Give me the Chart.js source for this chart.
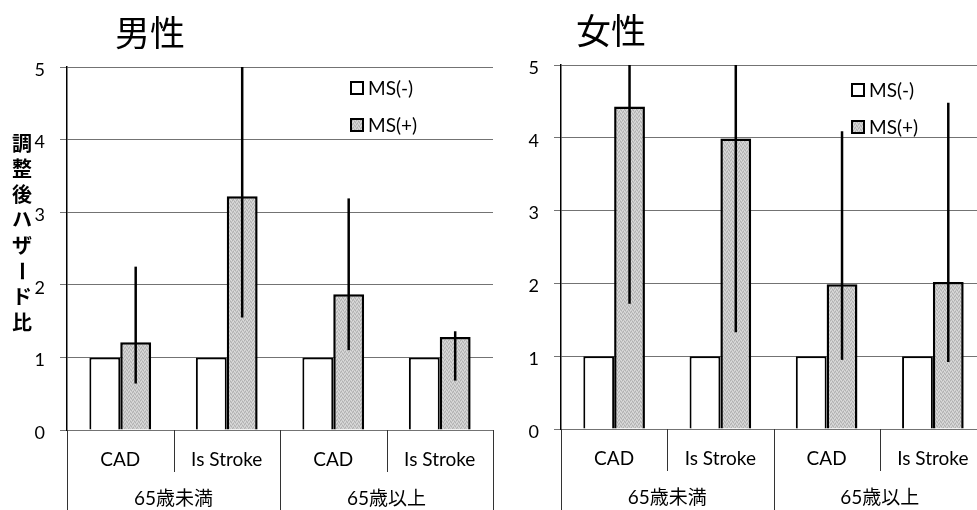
<!DOCTYPE html>
<html>
<head>
<meta charset="utf-8">
<script src="https://cdn.jsdelivr.net/npm/chart.js@4"></script>
<style>
  html, body { margin: 0; padding: 0; background: #fff; overflow: hidden; width: 977px; height: 510px; position: relative; }
  .panel { position: absolute; top: 0; height: 510px; }
  #male { left: 0; width: 496px; }
  #female { left: 494px; width: 494px; }
</style>
</head>
<body>
<div class="panel" id="male"><canvas id="cMale" width="496" height="510"></canvas></div>
<div class="panel" id="female"><canvas id="cFemale" width="494" height="510"></canvas></div>
<script>
// Outcome categories, grouped by age band
const outcomes = ['CAD', 'Is Stroke', 'CAD', 'Is Stroke'];
const ageGroups = ['65歳未満', '65歳以上'];
const seriesNames = ['MS(-)', 'MS(+)'];
const yTicks = [0, 1, 2, 3, 4, 5];
const yAxisTitle = '調整後ハザード比';

// Men: adjusted hazard ratios and 95% CI of the MS(+) group (MS(-) is the reference = 1)
const maleMsNeg = [1, 1, 1, 1];
const maleMsPos = [1.21, 3.22, 1.87, 1.28];
const maleCiLow = [0.64, 1.55, 1.10, 0.68];
const maleCiHigh = [2.25, 5.5, 3.19, 1.36];

// Women
const femaleMsNeg = [1, 1, 1, 1];
const femaleMsPos = [4.43, 3.99, 1.99, 2.02];
const femaleCiLow = [1.72, 1.33, 0.95, 0.92];
const femaleCiHigh = [5.5, 5.5, 4.09, 4.48];

const LATIN = 'Lato, "Noto Sans CJK JP", sans-serif';
const CJK = '"Noto Sans CJK JP", sans-serif';

function stipple(ctx) {
  const c = document.createElement('canvas');
  c.width = c.height = 4;
  const g = c.getContext('2d');
  g.fillStyle = '#c8c8c8'; g.fillRect(0, 0, 4, 4);
  g.fillStyle = '#b0b0b0';
  [[0, 0], [2, 1], [1, 3], [3, 2]].forEach(([x, y]) => g.fillRect(x, y, 1, 1));
  g.fillStyle = '#dcdcdc';
  [[1, 1], [3, 0], [0, 2], [2, 3]].forEach(([x, y]) => g.fillRect(x, y, 1, 1));
  return ctx.createPattern(c, 'repeat');
}

const decor = {
  id: 'decor',
  afterDatasetsDraw(chart, args, o) {
    const { ctx, chartArea: a, scales: { y } } = chart;
    const meta = chart.getDatasetMeta(1);
    ctx.save();
    ctx.beginPath();
    ctx.rect(a.left, a.top, a.right - a.left, a.bottom - a.top);
    ctx.clip();
    ctx.strokeStyle = '#000';
    ctx.lineWidth = 2.5;
    meta.data.forEach((bar, i) => {
      ctx.beginPath();
      ctx.moveTo(bar.x, y.getPixelForValue(o.lo[i]));
      ctx.lineTo(bar.x, y.getPixelForValue(o.hi[i]));
      ctx.stroke();
    });
    ctx.restore();
  },
  afterDraw(chart, args, o) {
    const { ctx, chartArea: a } = chart;
    const H = chart.height;
    const n = outcomes.length;
    const cw = (a.right - a.left) / n;
    ctx.save();

    // category boundaries under the axis
    ctx.strokeStyle = '#333';
    ctx.lineWidth = 1;
    for (let i = 0; i <= n; i++) {
      const x = Math.round(a.left + i * cw) + 0.5;
      const full = i % 2 === 0;
      ctx.beginPath();
      ctx.moveTo(x, a.bottom);
      ctx.lineTo(x, full ? H : a.bottom + 42);
      ctx.stroke();
    }

    // outcome and age-group labels
    ctx.fillStyle = '#000';
    ctx.textAlign = 'center';
    ctx.textBaseline = 'middle';
    ctx.font = '19px ' + LATIN;
    outcomes.forEach((t, i) => ctx.fillText(t, a.left + (i + 0.5) * cw, a.bottom + 30));
    ageGroups.forEach((t, g) => ctx.fillText(t, a.left + (g * 2 + 1) * cw, a.bottom + 69));

    // legend inside the plot
    const L = o.legend;
    ctx.textAlign = 'left';
    seriesNames.forEach((t, i) => {
      const cy = L.y[i];
      ctx.fillStyle = i === 0 ? '#fff' : o.fill;
      ctx.fillRect(L.x, cy - 6, 12, 12);
      ctx.strokeStyle = '#000';
      ctx.lineWidth = 2;
      ctx.strokeRect(L.x, cy - 6, 12, 12);
      ctx.fillStyle = '#000';
      ctx.font = '19px ' + LATIN;
      ctx.fillText(t, L.x + 17, cy + 1);
    });

    // panel title
    ctx.textAlign = 'center';
    ctx.font = '35px ' + CJK;
    ctx.fillText(o.title.text, o.title.x, o.title.y);

    // vertical y-axis title
    if (o.yTitle) {
      ctx.font = 'bold 20px ' + CJK;
      [...yAxisTitle].forEach((ch, i) => {
        const cy = 143 + i * 25.6;
        if (ch === 'ー') {
          ctx.save();
          ctx.translate(22, cy);
          ctx.rotate(Math.PI / 2);
          ctx.fillText(ch, 0, 0);
          ctx.restore();
        } else {
          ctx.fillText(ch, 22, cy);
        }
      });
    }
    ctx.restore();
  }
};

function makeChart(id, msNeg, msPos, lo, hi, opt) {
  const canvas = document.getElementById(id);
  const ctx = canvas.getContext('2d');
  const fill = stipple(ctx);
  return new Chart(ctx, {
    type: 'bar',
    data: {
      labels: outcomes,
      datasets: [
        { label: seriesNames[0], data: msNeg, backgroundColor: '#fff', borderColor: '#000', borderWidth: 2,
          categoryPercentage: 0.58, barPercentage: 1 },
        { label: seriesNames[1], data: msPos, backgroundColor: fill, borderColor: '#000', borderWidth: 2.5,
          categoryPercentage: 0.58, barPercentage: 1 }
      ]
    },
    options: {
      responsive: false,
      animation: false,
      events: [],
      layout: { padding: { top: opt.top, bottom: opt.bottom, left: 0, right: opt.right } },
      scales: {
        x: { display: false },
        y: {
          min: 0, max: 5,
          afterBuildTicks(s) { s.ticks = yTicks.map(v => ({ value: v })); },
          ticks: { color: '#000', font: { family: LATIN, size: 18 }, padding: 15, labelOffset: 3 },
          grid: { color: 'rgba(0,0,0,0.55)', lineWidth: 1, tickLength: 7 },
          border: { display: true, color: '#000', width: 1.5 },
          afterFit(s) { s.width = 67; }
        }
      },
      plugins: {
        legend: { display: false },
        tooltip: { enabled: false },
        decor: { lo, hi, fill, legend: opt.legend, title: opt.title, yTitle: opt.yTitle }
      }
    },
    plugins: [decor]
  });
}

makeChart('cMale', maleMsNeg, maleMsPos, maleCiLow, maleCiHigh, {
  top: 67, bottom: 80, right: 3,
  legend: { x: 351, y: [88, 125] },
  title: { text: '男性', x: 150, y: 33 },
  yTitle: true
});

makeChart('cFemale', femaleMsNeg, femaleMsPos, femaleCiLow, femaleCiHigh, {
  top: 65, bottom: 81, right: 2,
  legend: { x: 358, y: [90, 127] },
  title: { text: '女性', x: 117, y: 31 },
  yTitle: false
});
</script>
</body>
</html>
